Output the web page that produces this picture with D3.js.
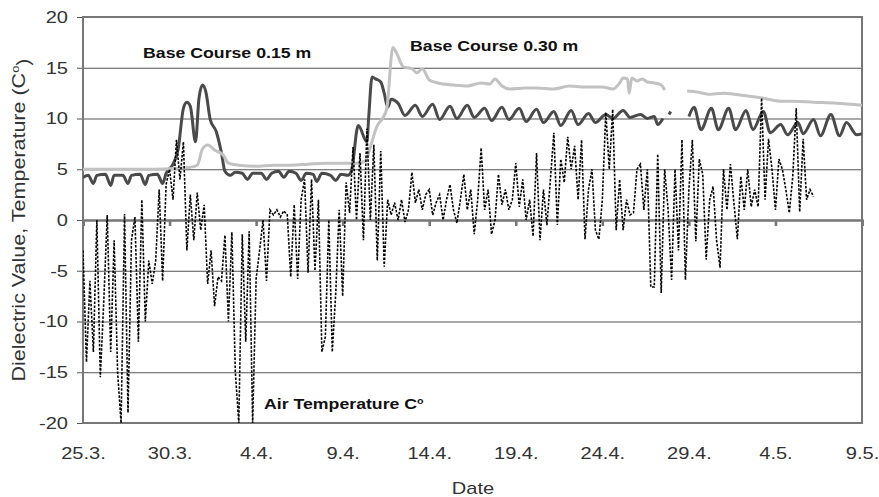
<!DOCTYPE html>
<html><head><meta charset="utf-8">
<script src="https://cdn.jsdelivr.net/npm/d3@7"></script>
<style>
body{margin:0;background:#fff;}
text{font-family:Arial,"Liberation Sans",sans-serif;}
</style>
</head><body>
<svg id="chart" width="879" height="497"></svg>
<script>
// ---------- data ----------
const xTickLabels = ["25.3.","30.3.","4.4.","9.4.","14.4.","19.4.","24.4.","29.4.","4.5.","9.5."];
const xTickDays   = [0,5,10,15,20,25,30,35,40,45];
const yTicks      = [20,15,10,5,0,-5,-10,-15,-20];

// Base Course 0.15 m (days since 25.3., value)
const bc15Days = [0,0.3,0.6,0.8,1.3,1.6,1.8,2.3,2.6,2.8,3.3,3.6,3.8,4.3,4.6,4.8,5.2,5.5,5.8,6.0,6.2,6.5,6.7,6.9,7.1,7.35,7.7,8.0,8.2,8.5,8.8,9.2,9.5,9.8,10.3,10.6,10.9,11.3,11.6,11.9,12.3,12.6,12.9,13.3,13.5,13.8,14.3,14.6,14.9,15.3,15.5,15.9,16.4,16.5,16.7,16.9,17.2,17.4,17.6,17.8,18.2,18.6,19.2,19.6,20.2,20.6,21.2,21.6,22.2,22.6,23.2,23.6,24.2,24.6,25.2,25.6,26.2,26.6,27.2,27.6,28.2,28.6,29.2,29.6,30.2,30.6,31.2,31.6,32.2,32.6,33.0,33.2,33.5,33.7,33.85,33.95,34.5,35.0,35.3,35.7,36.3,36.7,37.3,37.7,38.3,38.7,39.3,39.7,40.3,40.7,41.3,41.6,42.2,42.6,43.2,43.7,44.1,44.7,45.0];
const bc15Vals = [4.2,4.4,3.6,4.4,4.5,3.4,4.4,4.4,3.6,4.4,4.5,3.5,4.4,4.5,3.6,4.6,5.5,7,11,11.6,11.2,7.7,12,13.3,12.6,9.9,8.7,6.6,4.8,4.4,4.7,4.6,4.0,4.6,4.6,4.0,4.6,4.8,4.2,4.8,4.6,3.9,4.6,4.5,3.8,4.6,4.4,3.9,4.5,4.4,4.8,9.3,7.7,10,14.1,13.9,13.6,12.5,11.1,11.9,11.5,10.3,11.3,10.2,11.4,9.9,11.2,10.0,11.3,10.1,11.0,9.8,11.1,9.9,11.0,9.7,10.9,9.6,10.7,9.3,10.8,9.4,10.5,9.6,10.4,10.0,10.8,10.1,10.4,10.0,10.2,9.4,10.0,null,10.4,10.7,null,10.2,11.1,8.9,11.0,8.9,11.0,8.9,10.8,8.9,10.7,8.6,9.4,8.4,9.6,8.5,9.9,8.3,10.4,8.3,9.6,8.4,8.5];

// Base Course 0.30 m
const bc30Days = [0,2,4,5.5,6.2,6.6,6.9,7.2,7.6,8.1,8.4,9,10,11,12,13,14,15,15.8,16.3,16.6,17.0,17.3,17.55,17.9,18.1,18.5,19.0,19.3,19.6,20.0,20.5,21.4,22.2,23.0,23.5,23.8,24.2,24.7,25.5,26.2,27.2,28.1,29.0,30.0,30.6,31.0,31.2,31.45,31.55,31.7,32.0,32.3,32.6,33.0,33.4,33.6,34.2,34.9,35.5,36.1,37.0,37.6,38.5,39.3,40.3,41.0,42.2,43.5,45.0];
const bc30Vals = [5.0,5.0,5.0,5.1,5.2,5.4,7.0,7.4,6.9,6.4,5.6,5.4,5.3,5.4,5.4,5.5,5.6,5.6,5.6,5.8,7.2,9.3,10.0,11.0,17.0,16.5,15.1,14.9,14.5,14.9,13.8,13.5,13.3,13.2,13.5,13.4,13.9,13.2,12.9,13.0,13.0,12.9,13.2,13.1,13.1,12.9,13.5,14.0,13.9,12.5,14.0,13.7,13.9,13.6,13.5,13.3,12.8,null,12.7,12.6,12.4,12.5,12.4,12.2,12.0,11.7,11.7,11.6,11.5,11.3];

// Air temperature, sampled every 0.2 day from 25.3.
const airStep = 0.2;
const airVals = [
 -3,-14,-6,-13,0,
 -15.5,-8,0.5,-13,-2,
 -15,-20,0.6,-19,-2,
 0.3,-12,2,-10,-4,
 -6.3,-4,3,-6,3.5,
 5,2,7.9,4,7.7,
 -3,2.5,-2,2.7,-1,
 1.5,-6.3,-3,-8.5,-5.6,
 -6,-1.5,-10,-1.2,-15,
 -20,-1.4,-12,-1.1,-20,
 -5.8,-3,0,-6,1,
 0.5,1,0.3,0.9,0.5,
 -5.6,1.5,-5.8,2,4,
 -5.2,4,-5,2,-13,
 -11.5,0,-13,-7.2,1,
 -7.5,3.7,0.7,7.2,0,
 6.6,-2,9,0,7.4,
 -4,6.8,-4.6,2,0.5,
 1.7,0,2,-0.2,1,
 4.7,1.7,3,1,2.5,
 3,0.5,1.7,2.5,0,
 2,3.5,1,-0.3,2,
 4.5,1,3,-1.4,2,
 7.1,1,3,-1.4,0,
 4.5,1.5,3,1,2,
 5.6,1.3,4,0,2,
 -1.6,6.6,-2,3,-0.5,
 4,8.6,-0.5,6,3.7,
 8.2,5,7.3,2,7.9,
 -1.9,3,5,-1,-1.9,
 2,10.6,5,10.9,-1,
 4,-1,2,0.5,0.7,
 5,5.5,1,5,-6.6,
 -6.6,6.5,-7.2,5,1,
 -5.9,5,-3,7.9,-5.9,
 3,7.9,-2.1,6,4.5,
 -3.9,2,3.3,-2,-4.7,
 5,1,5.5,1.7,-1.9,
 4.3,1,5,1.3,3,
 1.3,12,2,8,5,
 1,6,5,3,0.7,
 4.3,11,0.8,8,2,
 3,2.3
];

// ---------- chart ----------
const svg = d3.select("#chart");
const X0 = 83, X1 = 862, Y0 = 17, Y1 = 423;
const x = d3.scaleLinear().domain([0,45]).range([X0,X1]);
const y = d3.scaleLinear().domain([-20,20]).range([Y1,Y0]);
const STRETCH = 1.18;

// grid + y labels
const yAxis = svg.append("g").attr("transform",`translate(${X0-6},0)`)
  .call(d3.axisLeft(y).tickValues(yTicks).tickSize(-(X1-X0+6)).tickPadding(9)
    .tickFormat(d=>String(d)));
yAxis.select(".domain").remove();
yAxis.selectAll(".tick line").attr("stroke","#555").attr("stroke-width",1.2);
yAxis.selectAll(".tick text").attr("font-size",17).attr("fill","#333").attr("font-family","Arial, 'Liberation Sans', sans-serif");

// frame
svg.append("rect").attr("x",X0).attr("y",Y0).attr("width",X1-X0).attr("height",Y1-Y0)
  .attr("fill","none").attr("stroke","#777").attr("stroke-width",2);

// zero line with ticks
const zeroAxis = svg.append("g").attr("transform",`translate(0,${y(0)})`)
  .call(d3.axisBottom(x).tickValues(xTickDays).tickSize(6).tickFormat(""));
zeroAxis.select(".domain").attr("stroke","#777").attr("stroke-width",2.6);
zeroAxis.selectAll(".tick line").attr("stroke","#777").attr("stroke-width",2.6);

// bottom labels
const xAxis = svg.append("g").attr("transform",`translate(0,${Y1})`)
  .call(d3.axisBottom(x).tickValues(xTickDays).tickSize(0).tickPadding(24)
    .tickFormat((d,i)=>xTickLabels[i]));
xAxis.select(".domain").remove();
xAxis.selectAll(".tick text").attr("font-size",17).attr("fill","#333").attr("font-family","Arial, 'Liberation Sans', sans-serif");

// clip
svg.append("clipPath").attr("id","plot").append("rect")
  .attr("x",X0).attr("y",Y0-2).attr("width",X1-X0).attr("height",Y1-Y0+2);

const lineGen = d3.line().defined(d=>d.v!==null).x(d=>x(d.t)).y(d=>y(d.v));
const bc15 = bc15Days.map((t,i)=>({t, v:bc15Vals[i]}));
const bc30 = bc30Days.map((t,i)=>({t, v:bc30Vals[i]}));
const air  = airVals.map((v,i)=>({t:i*airStep, v}));

const g = svg.append("g").attr("clip-path","url(#plot)");
g.append("path").datum(bc15).attr("d",lineGen.curve(d3.curveMonotoneX))
  .attr("fill","none").attr("stroke","#4a4a4a").attr("stroke-width",3).attr("stroke-linejoin","round");
g.append("path").datum(bc30).attr("d",lineGen.curve(d3.curveMonotoneX))
  .attr("fill","none").attr("stroke","#c2c2c2").attr("stroke-width",3).attr("stroke-linejoin","round");
g.append("path").datum(air).attr("d",lineGen.curve(d3.curveLinear))
  .attr("fill","none").attr("stroke","#000").attr("stroke-width",1.6)
  .attr("stroke-dasharray","2.5,1.5");

// labels
function sup(sel, main, s, after){
  sel.append("tspan").text(main);
  sel.append("tspan").attr("font-size","0.6em").attr("dy","-0.55em").text(s);
  if(after) sel.append("tspan").attr("dy","0.55em").text(after);
}
const stretchables = [];
stretchables.push(svg.append("text").attr("x",143).attr("y",58).attr("font-size",15).attr("font-weight","bold")
  .attr("fill","#111").text("Base Course 0.15 m"));
stretchables.push(svg.append("text").attr("x",410).attr("y",51).attr("font-size",15).attr("font-weight","bold")
  .attr("fill","#111").text("Base Course 0.30 m"));
const airLbl = svg.append("text").attr("x",264).attr("y",409).attr("font-size",15).attr("font-weight","bold").attr("fill","#111");
sup(airLbl, "Air Temperature C", "o");
stretchables.push(airLbl);
stretchables.push(svg.append("text").attr("x",473).attr("y",494).attr("text-anchor","middle")
  .attr("font-size",17).attr("fill","#333").text("Date"));

// horizontal widening of text to match the reference's wide glyphs
const tickTexts = svg.selectAll(".tick text").nodes();
tickTexts.concat(stretchables.map(s=>s.node())).forEach(node=>{
  const w = node.getComputedTextLength();
  d3.select(node).attr("textLength", w*STRETCH).attr("lengthAdjust","spacingAndGlyphs");
});

// y-axis title (start-anchored, centred on the plot height)
const titleLen = 323, titleMid = (Y0+Y1)/2;
const yTitle = svg.append("text")
  .attr("transform",`translate(25,${titleMid + titleLen/2}) rotate(-90)`)
  .attr("font-size",18).attr("fill","#333");
sup(yTitle, "Dielectric Value, Temperature (C", "o", ")");
yTitle.attr("textLength", titleLen).attr("lengthAdjust","spacingAndGlyphs");
</script>
</body></html>
